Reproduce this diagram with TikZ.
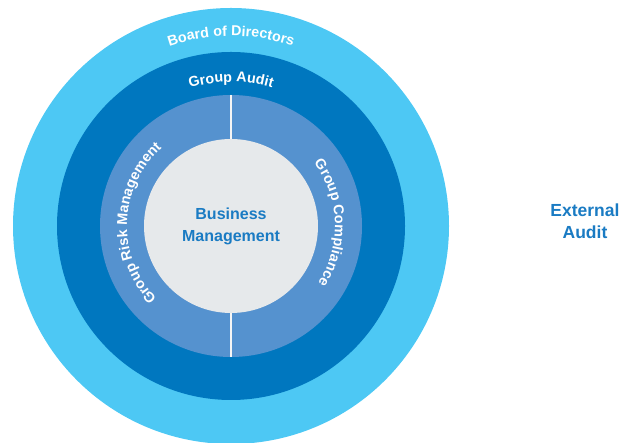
\documentclass[tikz,border=0pt]{standalone}
\usepackage{fontspec}
\setmainfont{Liberation Sans}
\usetikzlibrary{decorations.text}
\definecolor{boardblue}{HTML}{4DC8F4}
\definecolor{auditblue}{HTML}{0077BF}
\definecolor{controlblue}{HTML}{5592CF}
\definecolor{coregray}{HTML}{E6E9EB}
\definecolor{textblue}{HTML}{1A7BC3}

\begin{document}
\begin{tikzpicture}[
  x=1pt, y=1pt,
  ring/.style={circle, inner sep=0pt, outer sep=0pt},
  arclabel/.style={decorate, decoration={text along path, text align=center,
    text={|\bfseries\fontsize{14.3}{17}\selectfont\color{white}|#1}}},
  divider/.style={draw=white!92!gray, line width=1.6pt},
  heading/.style={align=center, text=textblue, font=\bfseries\fontsize{16}{22}\selectfont}
]
\useasboundingbox (0,0) rectangle (623,443);

\node[ring, fill=boardblue, minimum size=436pt] (board) at (231,217) {};
\node[ring, fill=auditblue, minimum size=348pt] (audit) at (board.center) {};
\node[ring, fill=controlblue, minimum size=262pt] (control) at (board.center) {};
\node[ring, fill=coregray, minimum size=174pt] (core) at (board.center) {};

\node[heading] (business) at (core.center) {Business\\Management};
\node[heading, font=\bfseries\fontsize{17.5}{22}\selectfont] (external) at (585,222) {External\\Audit};

\draw[divider] (core.north) -- (control.north);
\draw[divider] (core.south) -- (control.south);

\path[arclabel=Board of Directors] (board.center) ++(150:190) arc[start angle=150, end angle=30, radius=190pt];
\path[arclabel=Group Audit] (board.center) ++(150:144) arc[start angle=150, end angle=30, radius=144pt];
\path[arclabel=Group Risk Management] (board.center) ++(260:104) arc[start angle=260, end angle=96, radius=104pt];
\path[arclabel=Group Compliance] (board.center) ++(82:104) arc[start angle=82, end angle=-78, radius=104pt];
\end{tikzpicture}
\end{document}
